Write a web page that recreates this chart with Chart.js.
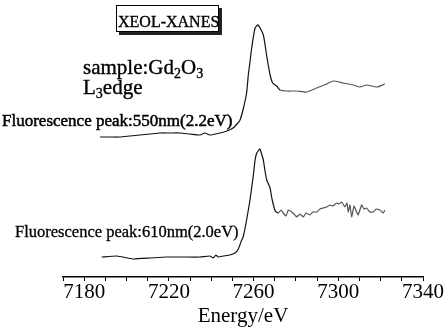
<!DOCTYPE html>
<html>
<head>
<meta charset="utf-8">
<script src="https://cdn.jsdelivr.net/npm/chart.js@4/dist/chart.umd.min.js"></script>
<style>
  html, body { margin: 0; padding: 0; background: #fff; }
  #wrap { width: 446px; height: 332px; }
</style>
</head>
<body>
<div id="wrap"><canvas id="xanes"></canvas></div>
<script>
// photon energy (eV) and XEOL intensity (arb. units)
const energyTop = [7187.5, 7192.2, 7196.9, 7201.6, 7206.4, 7211.1, 7215.8, 7220.5, 7225.2, 7229.9,
  7234.7, 7237.0, 7239.4, 7244.1, 7247.4, 7250.3, 7252.6, 7253.6, 7255.0, 7256.7, 7257.5, 7258.3,
  7259.1, 7260.7, 7262.1, 7264.6, 7266.2, 7267.8, 7269.0, 7270.9, 7272.5, 7275.6, 7280.3, 7285.1,
  7289.8, 7294.5, 7297.6, 7302.3, 7307.1, 7310.2, 7313.4, 7318.1, 7322.0];
const intensityTop = [1.40, 1.40, 1.40, 1.41, 1.42, 1.43, 1.44, 1.44, 1.44, 1.43,
  1.42, 1.44, 1.42, 1.44, 1.46, 1.49, 1.54, 1.57, 1.67, 1.84, 2.02, 2.15,
  2.29, 2.49, 2.52, 2.42, 2.21, 2.02, 1.94, 1.91, 1.87, 1.86, 1.86, 1.85,
  1.89, 1.93, 1.96, 1.94, 1.92, 1.90, 1.92, 1.90, 1.93];

const energyBottom = [7188.3, 7195.4, 7203.2, 7211.1, 7219.0, 7226.8, 7234.7, 7239.4, 7241.0, 7242.2,
  7243.3, 7245.7, 7248.8, 7251.2, 7252.8, 7254.4, 7255.1, 7256.7, 7258.3, 7259.9, 7260.7, 7261.5,
  7263.0, 7264.6, 7265.4, 7266.2, 7267.0, 7267.8, 7268.6, 7270.2, 7271.7, 7273.0, 7274.0, 7275.3,
  7276.4, 7278.0, 7279.1, 7280.3, 7281.9, 7283.5, 7284.7, 7286.6, 7288.0, 7289.8, 7291.3, 7292.9,
  7294.5, 7296.1, 7297.5, 7299.2, 7300.3, 7301.6, 7303.1, 7304.1, 7304.7, 7305.5, 7306.3, 7307.4,
  7307.9, 7309.4, 7311.0, 7312.1, 7313.4, 7314.9, 7316.5, 7317.8, 7319.7, 7321.2, 7322.0];
const intensityBottom = [0.20, 0.21, 0.18, 0.19, 0.20, 0.20, 0.20, 0.21, 0.19, 0.22,
  0.20, 0.21, 0.22, 0.24, 0.28, 0.37, 0.40, 0.57, 0.77, 1.02, 1.17, 1.24,
  1.28, 1.17, 1.06, 0.97, 0.93, 0.89, 0.79, 0.66, 0.64, 0.67, 0.64, 0.61,
  0.67, 0.65, 0.63, 0.60, 0.63, 0.60, 0.64, 0.62, 0.65, 0.65, 0.68, 0.69,
  0.70, 0.72, 0.71, 0.74, 0.73, 0.75, 0.70, 0.74, 0.65, 0.72, 0.60, 0.71,
  0.69, 0.62, 0.72, 0.68, 0.69, 0.65, 0.65, 0.68, 0.67, 0.64, 0.67];

const labelledTicks = [7180, 7220, 7260, 7300, 7340];
const boxTitle = 'XEOL-XANES';
const peakTop = 'Fluorescence peak:550nm(2.2eV)';
const peakBottom = 'Fluorescence peak:610nm(2.0eV)';

const serif = '"Liberation Serif", "Times New Roman", serif';

let toPoints = (xs, ys) => xs.map((x, i) => ({ x: x, y: ys[i] }));

// the scanned tails past the white line look paler than the edge
let tailColor = (c) => c.p0.parsed.x > 7271 ? '#555' : '#111';

let inkText = (ctx, text, x, y) => {
  ctx.fillText(text, x, y);
  ctx.strokeText(text, x, y);
  return ctx.measureText(text).width;
}

// text in the plot: framed title, sample name, edge, peak labels
const notes = {
  id: 'notes',
  afterDraw(chart) {
    const ctx = chart.ctx;
    ctx.save();
    ctx.textBaseline = 'alphabetic';

    // framed title with a drop shadow
    ctx.fillStyle = '#222';
    ctx.fillRect(119, 8, 103, 27);
    ctx.fillStyle = '#fff';
    ctx.fillRect(116, 5, 103, 27);
    ctx.strokeStyle = '#000';
    ctx.lineWidth = 1;
    ctx.strokeRect(116.5, 5.5, 102, 26);

    ctx.fillStyle = '#000';
    ctx.strokeStyle = '#000';
    ctx.lineWidth = 0.35;
    ctx.font = '16px ' + serif;
    inkText(ctx, boxTitle, 118, 27);

    // sample:Gd2O3
    let x = 83;
    ctx.font = '21px ' + serif;
    x += inkText(ctx, 'sample:Gd', x, 74);
    ctx.font = '14px ' + serif;
    x += inkText(ctx, '2', x, 78);
    ctx.font = '21px ' + serif;
    x += inkText(ctx, 'O', x, 74);
    ctx.font = '14px ' + serif;
    inkText(ctx, '3', x, 78);

    // L3edge
    x = 83;
    ctx.font = '21px ' + serif;
    x += inkText(ctx, 'L', x, 94);
    ctx.font = '14px ' + serif;
    x += inkText(ctx, '3', x, 98);
    ctx.font = '21px ' + serif;
    inkText(ctx, 'edge', x, 94);

    ctx.lineWidth = 0.5;
    ctx.font = '17px ' + serif;
    inkText(ctx, peakTop, 2, 126);
    ctx.lineWidth = 0.3;
    ctx.font = '16.5px ' + serif;
    inkText(ctx, peakBottom, 15, 237);
    ctx.restore();
  }
};

const ctx = document.getElementById('xanes');
const config = {
  type: 'line',
  data: {
    datasets: [{
      label: '550nm',
      data: toPoints(energyTop, intensityTop),
      borderColor: '#111',
      borderWidth: 1.2,
      pointRadius: 0,
      tension: 0.2,
      segment: { borderColor: tailColor }
    }, {
      label: '610nm',
      data: toPoints(energyBottom, intensityBottom),
      borderColor: '#111',
      borderWidth: 1.2,
      pointRadius: 0,
      tension: 0.1,
      segment: { borderColor: tailColor }
    }]
  },
  options: {
    responsive: true,
    maintainAspectRatio: false,
    animation: false,
    layout: { padding: { left: 63, right: 23, top: 5, bottom: 5 } },
    plugins: { legend: { display: false }, tooltip: { enabled: false } },
    scales: {
      x: {
        type: 'linear',
        min: 7170,
        max: 7340,
        grid: { drawOnChartArea: false, drawTicks: true, tickLength: 4, color: '#000' },
        border: { display: true, color: '#000', width: 1.5 },
        ticks: {
          stepSize: 10,
          autoSkip: false,
          maxRotation: 0,
          padding: 1,
          color: '#000',
          font: { family: serif, size: 21, lineHeight: 1 },
          callback: (v) => labelledTicks.includes(v) ? String(v) : ''
        },
        title: {
          display: true,
          text: 'Energy/eV',
          color: '#000',
          padding: { top: 2, bottom: 0 },
          font: { family: serif, size: 21, lineHeight: 1 }
        }
      },
      y: {
        display: false,
        min: 0,
        max: 2.72
      }
    }
  },
  plugins: [notes]
};
const chart = new Chart(ctx, config);
</script>
</body>
</html>
